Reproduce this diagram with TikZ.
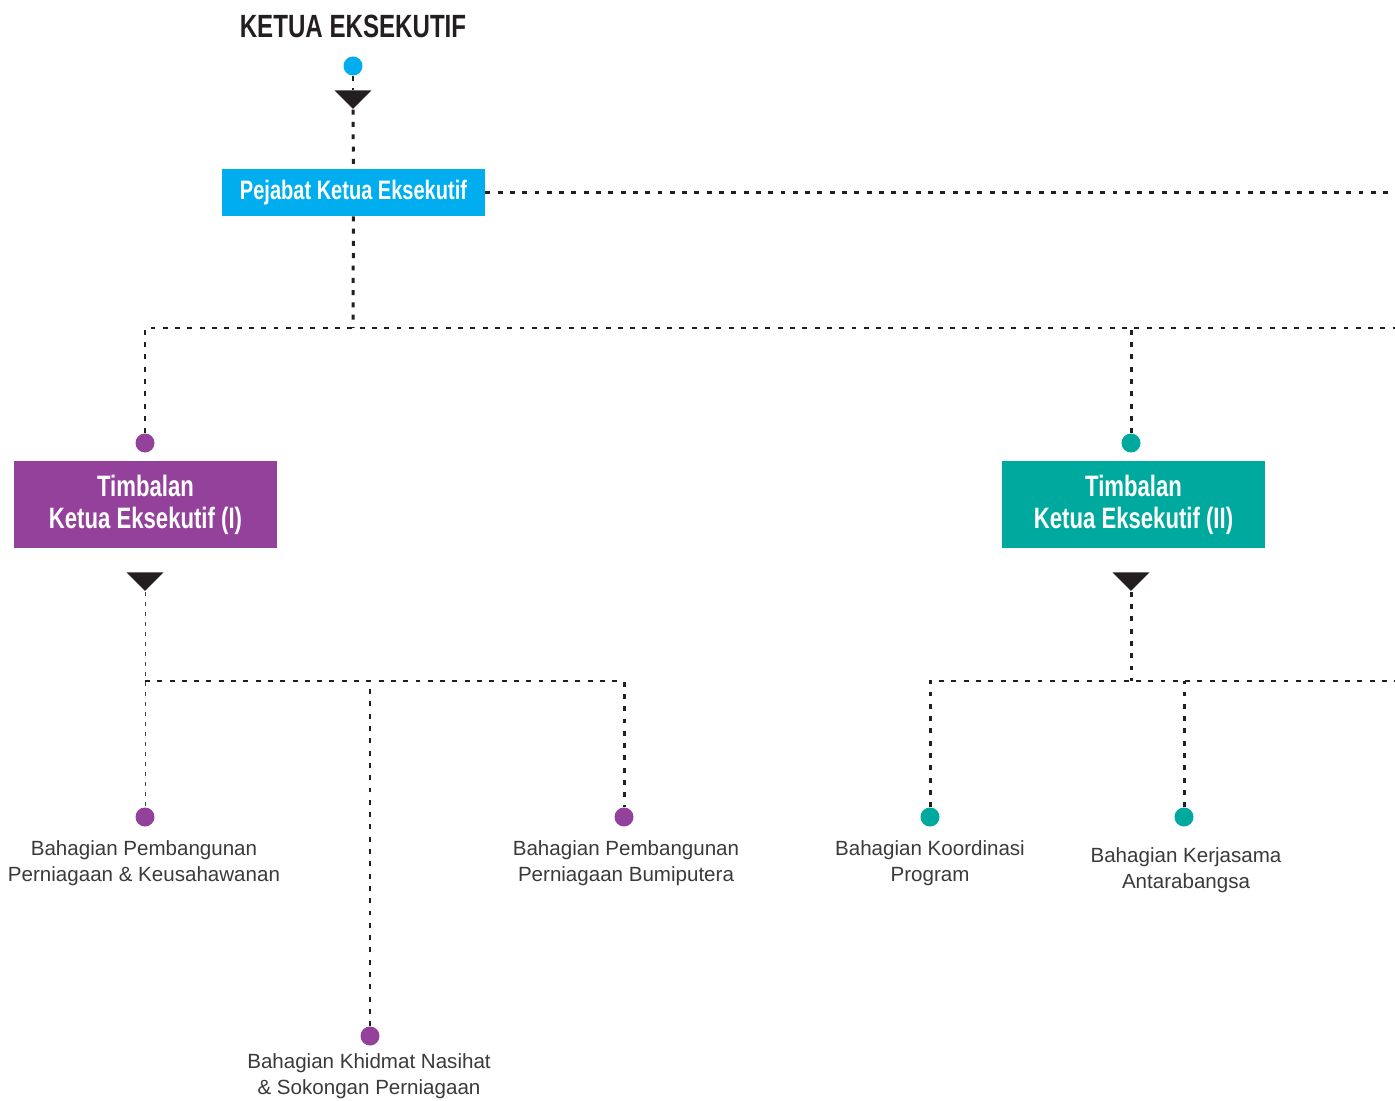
\documentclass[tikz,border=0pt]{standalone}
\usepackage{fontspec}
\setmainfont{Liberation Sans}
\newfontfamily\condfont[FakeStretch=0.75]{Liberation Sans}
\usetikzlibrary{shapes.geometric,positioning}
\definecolor{keblue}{HTML}{00AEEF}
\definecolor{kepurple}{HTML}{93419A}
\definecolor{keteal}{HTML}{00A99D}
\definecolor{kedark}{HTML}{231F20}
\definecolor{ketext}{HTML}{3A3A3A}
\tikzset{
  dotline/.style={draw=kedark,line width=1.7pt,dash pattern=on 2.8pt off 4.2pt},
  thinline/.style={draw=kedark!85,line width=0.5pt,dash pattern=on 2.3pt off 3.4pt},
  knob/.style={circle,inner sep=0pt,minimum size=0.38cm,fill=#1},
  pointer/.style={isosceles triangle,isosceles triangle stretches,shape border rotate=270,
    fill=kedark,inner sep=0pt,minimum width=0.74cm,minimum height=0.37cm},
  unitbox/.style={fill=#1,text=white,inner sep=0pt,minimum width=5.26cm,align=center},
  unitlbl/.style={align=center,text=ketext,font=\fontsize{11.7}{14.8}\selectfont}
}
\begin{document}
\begin{tikzpicture}[x=0.02cm,y=-0.02cm]
  \useasboundingbox (0,0) rectangle (1395,1101);
  \node[text=kedark,font=\condfont\bfseries\fontsize{18.3}{20}\selectfont] (ketua) at (353,26) {KETUA EKSEKUTIF};
  \node[knob=keblue] (kedot) at (353,66) {};
  \node[pointer] (ketri) at (353,98) {};
  \node[unitbox=keblue,minimum height=0.94cm,font=\condfont\bfseries\fontsize{15.2}{17}\selectfont] (pejabat) at (353.5,192.5) {Pejabat Ketua Eksekutif};
  % timbalan
  \node[knob=kepurple] (dotI) at (145,443) {};
  \node[unitbox=kepurple,minimum height=1.74cm,font=\condfont\bfseries\fontsize{16.8}{18.2}\selectfont] (tkeI) at (145.5,504.5) {Timbalan\\Ketua Eksekutif (I)};
  \node[pointer] (triI) at (145,580) {};
  \node[knob=keteal] (dotII) at (1131,443) {};
  \node[unitbox=keteal,minimum height=1.74cm,font=\condfont\bfseries\fontsize{16.8}{18.2}\selectfont] (tkeII) at (1133.5,504.5) {Timbalan\\Ketua Eksekutif (II)};
  \node[pointer] (triII) at (1131,580) {};
  % bahagian
  \node[knob=kepurple] (dotIa) at (145,817) {};
  \node[knob=kepurple] (dotIb) at (370,1036) {};
  \node[knob=kepurple] (dotIc) at (624,817) {};
  \node[knob=keteal] (dotIIa) at (930,817) {};
  \node[knob=keteal] (dotIIb) at (1184,817) {};
  \node[unitlbl] (bppk) at (144,863) {Bahagian Pembangunan\\Perniagaan \& Keusahawanan};
  \node[unitlbl] (bkns) at (369,1076) {Bahagian Khidmat Nasihat\\\& Sokongan Perniagaan};
  \node[unitlbl] (bppb) at (626,863) {Bahagian Pembangunan\\Perniagaan Bumiputera};
  \node[unitlbl] (bkp) at (930,863) {Bahagian Koordinasi\\Program};
  \node[unitlbl] (bka) at (1186,870) {Bahagian Kerjasama\\Antarabangsa};
  \coordinate (endI) at (1395,192.5);
  \coordinate (hub) at (353,328);
  \coordinate (endII) at (1395,328);
  \coordinate (lvI) at (145,681);
  \coordinate (lvII) at (1131,681);
  \coordinate (endIII) at (1395,681);
  % connectors
  \draw[dotline] (kedot) -- (ketri);
  \draw[dotline] (ketri) -- (pejabat);
  \draw[dotline] (pejabat) -- (endI);
  \draw[dotline] (pejabat) -- (hub);
  \draw[dotline] (dotI) |- (endII);
  \draw[dotline] (dotII) -- (dotII |- hub);
  \draw[thinline] (triI) -- (dotIa);
  \draw[dotline] (lvI) -| (dotIc);
  \draw[dotline] (dotIb) -- (dotIb |- lvI);
  \draw[dotline] (triII) -- (lvII);
  \draw[dotline] (dotIIa) |- (endIII);
  \draw[dotline] (dotIIb) -- (dotIIb |- lvII);
\end{tikzpicture}
\end{document}
